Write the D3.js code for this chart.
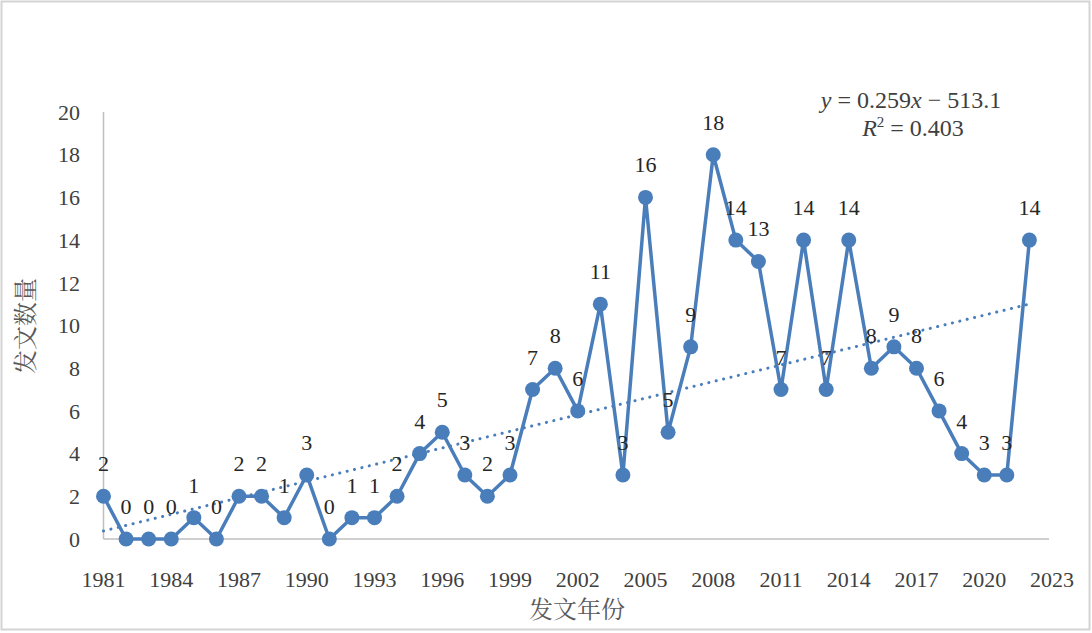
<!DOCTYPE html>
<html>
<head>
<meta charset="utf-8">
<script src="https://cdn.jsdelivr.net/npm/d3@7"></script>
</head>
<body style="margin:0; background:#fff">
<svg></svg>
<script>
const years = d3.range(1981, 2023);
const counts = [2, 0, 0, 0, 1, 0, 2, 2, 1, 3,
                0, 1, 1, 2, 4, 5, 3, 2, 3, 7,
                8, 6, 11, 3, 16, 5, 9, 18, 14, 13,
                7, 14, 7, 14, 8, 9, 8, 6, 4, 3,
                3, 14];
const xTicks = [1981, 1984, 1987, 1990, 1993, 1996, 1999, 2002, 2005, 2008, 2011, 2014, 2017, 2020, 2023];
const yTicks = [0, 2, 4, 6, 8, 10, 12, 14, 16, 18, 20];
const eqSlope = "0.259";
const eqIntercept = "513.1";
const eqR2 = "0.403";

(() => {
    const width = 1092;
    const height = 633;
    const blue = "#4a7ebb";
    const serif = "\"Liberation Serif\"";
    const cjk = "\"Noto Serif CJK SC\"";

    const svg = d3.select("svg")
        .attr("width", width)
        .attr("height", height);

    // chart frame
    svg.append("rect")
        .attr("x", 1.5).attr("y", 1.5)
        .attr("width", 1088).attr("height", 628)
        .attr("fill", "#fff")
        .attr("stroke", "#d4d4d4")
        .attr("stroke-width", 2);

    const x = d3.scaleLinear().domain([1981, 2023]).range([103.5, 1052]);
    const y = d3.scaleLinear().domain([0, 20]).range([539, 112]);

    // axes lines
    svg.append("line")
        .attr("x1", x(1981)).attr("x2", 1049)
        .attr("y1", y(0)).attr("y2", y(0))
        .attr("stroke", "#bfbfbf").attr("stroke-width", 1.5);
    svg.append("line")
        .attr("x1", x(1981)).attr("x2", x(1981))
        .attr("y1", y(0)).attr("y2", y(20))
        .attr("stroke", "#bfbfbf").attr("stroke-width", 1.5);

    // tick labels
    svg.append("g").selectAll("text")
        .data(yTicks)
        .enter()
        .append("text")
        .attr("x", 80)
        .attr("y", d => y(d))
        .attr("dy", "0.35em")
        .attr("text-anchor", "end")
        .attr("fill", "#404040")
        .style("font-family", serif)
        .style("font-size", "22px")
        .text(d => d);

    svg.append("g").selectAll("text")
        .data(xTicks)
        .enter()
        .append("text")
        .attr("x", d => x(d))
        .attr("y", 587)
        .attr("text-anchor", "middle")
        .attr("fill", "#404040")
        .style("font-family", serif)
        .style("font-size", "22px")
        .text(d => d);

    // axis titles
    svg.append("text")
        .attr("transform", "translate(34,326) rotate(-90)")
        .attr("text-anchor", "middle")
        .attr("fill", "#595959")
        .style("font-family", cjk)
        .style("font-size", "24px")
        .text("发文数量");
    svg.append("text")
        .attr("x", 577).attr("y", 618)
        .attr("text-anchor", "middle")
        .attr("fill", "#595959")
        .style("font-family", cjk)
        .style("font-size", "24px")
        .text("发文年份");

    // linear trend from the data
    const mx = d3.mean(years), my = d3.mean(counts);
    const slope = d3.sum(years, (d, i) => (d - mx) * (counts[i] - my)) /
                  d3.sum(years, d => (d - mx) * (d - mx));
    const trend = yr => my + slope * (yr - mx);

    const data = years.map((d, i) => ({ year: d, value: counts[i] }));

    const line = d3.line()
        .x(d => x(d.year))
        .y(d => y(d.value));

    svg.append("path")
        .datum(data)
        .attr("d", line)
        .attr("fill", "none")
        .attr("stroke", blue)
        .attr("stroke-width", 3.5)
        .attr("stroke-linejoin", "round");

    svg.append("line")
        .attr("x1", x(1981)).attr("y1", y(trend(1981)))
        .attr("x2", x(2022)).attr("y2", y(trend(2022)))
        .attr("stroke", blue)
        .attr("stroke-width", 3)
        .attr("stroke-linecap", "round")
        .attr("stroke-dasharray", "0.1 7.5");

    svg.append("g").selectAll("circle")
        .data(data)
        .enter()
        .append("circle")
        .attr("cx", d => x(d.year))
        .attr("cy", d => y(d.value))
        .attr("r", 7.5)
        .attr("fill", blue);

    svg.append("g").selectAll("text")
        .data(data)
        .enter()
        .append("text")
        .attr("x", d => x(d.year))
        .attr("y", d => y(d.value) - 25)
        .attr("text-anchor", "middle")
        .attr("fill", "#262626")
        .style("font-family", serif)
        .style("font-size", "22px")
        .text(d => d.value);

    // equation
    const eq1 = svg.append("text")
        .attr("x", 911).attr("y", 108)
        .attr("text-anchor", "middle")
        .attr("fill", "#404040")
        .style("font-family", serif)
        .style("font-size", "24px");
    eq1.append("tspan").style("font-style", "italic").text("y");
    eq1.append("tspan").text(" = " + eqSlope);
    eq1.append("tspan").style("font-style", "italic").text("x");
    eq1.append("tspan").text(" \u2212 " + eqIntercept);

    const eq2 = svg.append("text")
        .attr("x", 913).attr("y", 136)
        .attr("text-anchor", "middle")
        .attr("fill", "#404040")
        .style("font-family", serif)
        .style("font-size", "24px");
    eq2.append("tspan").style("font-style", "italic").text("R");
    eq2.append("tspan").style("font-size", "15px").attr("dy", -9).text("2");
    eq2.append("tspan").attr("dy", 9).text(" = " + eqR2);
})();
</script>
</body>
</html>
